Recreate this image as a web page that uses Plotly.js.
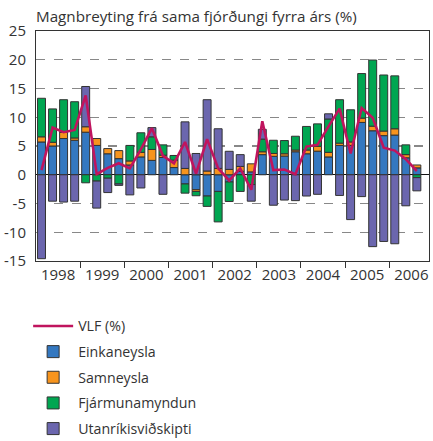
<!DOCTYPE html>
<html>
<head>
<meta charset="utf-8">
<script src="https://cdn.plot.ly/plotly-3.0.1.min.js"></script>
<style>
html,body{margin:0;padding:0;background:#fff;}
#chart{width:433px;height:441px;}
</style>
</head>
<body>
<div id="chart"></div>
<script>
// Quarters 1998Q1 - 2006Q3
var quarters = ["1998Q1","1998Q2","1998Q3","1998Q4","1999Q1","1999Q2","1999Q3","1999Q4",
  "2000Q1","2000Q2","2000Q3","2000Q4","2001Q1","2001Q2","2001Q3","2001Q4",
  "2002Q1","2002Q2","2002Q3","2002Q4","2003Q1","2003Q2","2003Q3","2003Q4",
  "2004Q1","2004Q2","2004Q3","2004Q4","2005Q1","2005Q2","2005Q3","2005Q4",
  "2006Q1","2006Q2","2006Q3"];
var years = ["1998","1999","2000","2001","2002","2003","2004","2005","2006"];

var vlf   = [0.8, 8.2, 7.4, 7.8, 13.8, 0.1, 1.2, 2.0, 1.1, 4.4, 8.1, 3.3, 2.0, 5.7, 0.2, 6.2,
             1.1, -1.0, 1.1, -2.6, 9.3, 0.8, 0.9, 0.1, 4.9, 5.2, 8.4, 11.5, 3.7, 11.6, 9.9, 4.7,
             4.2, 2.7, 0.65];
var einka = [5.7, 5.0, 6.3, 6.0, 7.4, 5.1, 3.65, 2.8, 1.7, 3.1, 2.5, 3.0, 1.25, -1.6, -2.6, -3.7,
             -2.9, -1.25, 0.6, 0.5, 3.5, 3.2, 3.25, 4.0, 3.65, 4.1, 3.1, 5.1, 5.1, 9.1, 7.65, 6.8,
             6.9, 2.95, 1.2];
var samn  = [0.9, 0.65, 1.05, 0.4, 0.95, 1.2, 0.9, 1.4, 0.7, 0.8, 1.9, 0.4, 1.3, 1.1, -0.3, 0.65,
             1.1, 0.93, 0.85, 1.4, 0.5, 0.5, 0.4, 0.3, 0.65, 0.85, 0.8, 0.4, 0.6, 0.75, 0.8, 0.8,
             1.1, 0.55, 0.5];
var fjarm = [6.7, 5.8, 5.7, 6.3, -1.4, -1.1, -0.6, -1.6, 2.7, 3.4, 2.2, 1.8, 0.8, -1.6, -0.75, -1.8,
             -5.3, -3.4, -2.9, -1.7, 2.2, 2.3, 2.3, 2.4, 4.1, 3.9, 5.8, 7.55, 5.6, 7.75, 11.5, 9.75,
             9.2, 1.7, -0.5];
var utan  = [-14.6, -4.6, -4.75, -4.6, 7.0, -4.7, -2.5, -0.25, -3.5, -2.3, 1.6, -3.4, 0, 8.1, 3.7, 12.4,
             6.9, 3.15, 2.05, -2.9, 1.7, -5.3, -4.4, -4.5, -3.7, -3.4, 0.9, -3.6, -7.8, -3.8, -12.5, -11.6,
             -12.0, -5.4, -2.3];
var yTicks = [-15, -10, -5, 0, 5, 10, 15, 20, 25];

var xs = quarters.map(function(q, i){ return i; });
var yearCenters = years.map(function(y, i){ return i * 4 + 1.5; });
var yearBounds = years.slice(1).map(function(y, i){ return (i + 1) * 4 - 0.5; });

var FONT = "Open Sans, Noto Sans, sans-serif";
var outline = {color: "#333333", width: 1};

function barTrace(name, vals, color, grp) {
  return {type: "bar", name: name, x: xs, y: vals, text: quarters, hoverinfo: "text+y+name",
    textposition: "none",
    marker: {color: color, line: outline}, width: 0.72, legendgroup: grp};
}

var data = [
  {type: "scatter", mode: "lines", name: "VLF (%)", x: xs, y: vlf, text: quarters,
   line: {color: "#c0145e", width: 2.6}, legendgroup: "g0"},
  barTrace("Einkaneysla", einka, "#3478c0", "g1"),
  barTrace("Samneysla", samn, "#f7941d", "g2"),
  barTrace("Fjármunamyndun", fjarm, "#00a651", "g3"),
  barTrace("Utanríkisviðskipti", utan, "#6b66ae", "g4")
];

var layout = {
  width: 433, height: 441,
  margin: {l: 36, r: 4, t: 31, b: 180, pad: 0, autoexpand: false},
  paper_bgcolor: "#fff", plot_bgcolor: "#fff",
  font: {family: FONT, size: 14, color: "#333"},
  barmode: "relative",
  bargap: 0.28,
  showlegend: true,
  title: {text: "Magnbreyting frá sama fjórðungi fyrra árs (%)", x: 0, xref: "paper",
          xanchor: "left", y: 1 - 17/441, yref: "container", yanchor: "middle",
          font: {family: FONT, size: 15.2, color: "#333"}},
  xaxis: {range: [-0.5, 35.1], showgrid: false, zeroline: false,
          showline: true, mirror: true, linecolor: "#333", linewidth: 1,
          tickmode: "array", tickvals: yearCenters, ticktext: years, ticks: "",
          tickfont: {family: FONT, size: 15, color: "#333"},
          minor: {tickmode: "array", tickvals: yearBounds, ticks: "outside", ticklen: 6,
                  tickcolor: "#333", tickwidth: 1, showgrid: false},
          fixedrange: true},
  yaxis: {range: [-15, 25], showline: true, mirror: true, linecolor: "#333", linewidth: 1,
          tickmode: "array", tickvals: yTicks, ticktext: yTicks.map(String), ticks: "",
          ticklabelstandoff: 6,
          showgrid: true, gridcolor: "#888", gridwidth: 1.2, griddash: "dash",
          zeroline: true, zerolinecolor: "#111", zerolinewidth: 1.2,
          tickfont: {family: FONT, size: 15, color: "#333"}, fixedrange: true},
  legend: {x: -0.02, xanchor: "left", y: -0.214, yanchor: "top", orientation: "v",
           tracegroupgap: 4.2, itemwidth: 40, font: {family: FONT, size: 14.2, color: "#333"},
           bgcolor: "rgba(0,0,0,0)"}
};

Plotly.newPlot("chart", data, layout, {displayModeBar: false, staticPlot: true});
</script>
</body>
</html>
